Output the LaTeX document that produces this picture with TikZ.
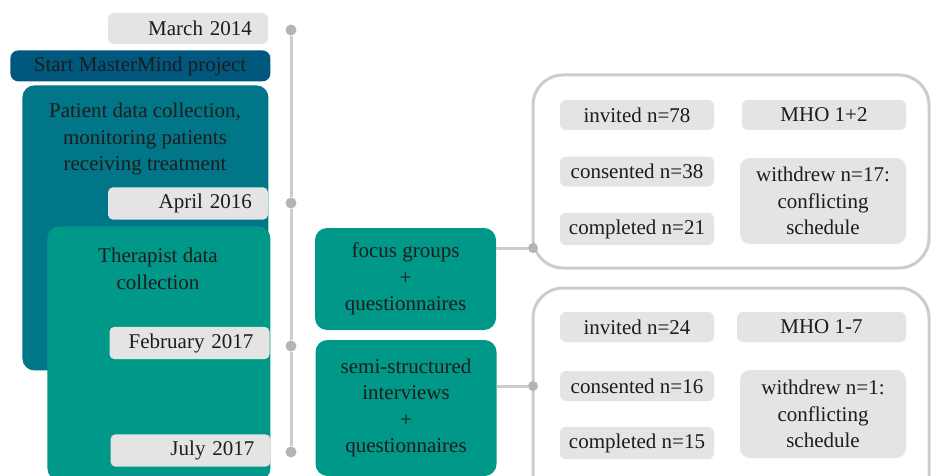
\documentclass[tikz,border=0pt]{standalone}
\usepackage{fontspec}
\setmainfont{Liberation Serif}
\usepackage{tikz}
\usetikzlibrary{positioning}
\definecolor{mmink}{RGB}{28,28,28}
\definecolor{mmnavy}{RGB}{0,88,126}
\definecolor{mmpetrol}{RGB}{0,118,136}
\definecolor{mmteal}{RGB}{0,152,136}
\definecolor{mmlabel}{RGB}{229,228,229}
\definecolor{mmline}{RGB}{204,204,204}
\definecolor{mmdot}{RGB}{180,180,180}

\begin{document}
\begin{tikzpicture}[x=0.5pt,y=-0.5pt,
  every node/.style={font=\fontsize{10.5}{13.3}\selectfont,text=mmink},
  date/.style={rectangle,rounded corners=2.5pt,fill=mmlabel,minimum width=80pt,minimum height=15.5pt,
    inner xsep=2pt,text width=64pt,align=right},
  phase/.style={rectangle,rounded corners=6pt,inner sep=0pt},
  method/.style={rectangle,rounded corners=6pt,fill=mmteal,minimum width=90.5pt,align=center},
  count/.style={rectangle,rounded corners=3pt,fill=mmlabel,minimum width=77pt,minimum height=15pt},
  panel/.style={draw=mmline,line width=1.5pt,rounded corners=15pt,fill=white},
  link/.style={draw=mmline,line width=1.5pt},
  dot/.style={circle,fill=mmdot,inner sep=0pt,minimum size=5.5pt}]
\useasboundingbox (0,0) rectangle (931,476);
\clip (0,0) rectangle (931,476);
% study phases (left)
\node[phase,fill=mmpetrol,anchor=north west,minimum width=123pt,minimum height=142.5pt] (patient) at (22,85) {};
\node[align=center] (patienttxt) at (145,139) {Patient data collection,\\monitoring patients\\receiving treatment};
\node[phase,fill=mmteal,anchor=north west,minimum width=111.5pt,minimum height=127pt] (therapist) at (47,226) {};
\node[align=center] (therapisttxt) at (158,269) {Therapist data\\collection};
\node[phase,fill=mmnavy,anchor=north west,minimum width=130pt,minimum height=15.5pt,rounded corners=4pt] (start) at (10,50) {};
\node (starttxt) at (140,66) {Start MasterMind project};
% dates on the timeline
\node[date] (mar14) at (188,28.5) {March 2014};
\node[date] (apr16) at (188,203.5) {April 2016};
\node[date] (feb17) at (189.5,343) {February 2017};
\node[date] (jul17) at (190.5,450.5) {July 2017};
\node[dot] (t1) at (291,30) {};
\node[dot] (t2) at (291,203) {};
\node[dot] (t3) at (291,346) {};
\node[dot] (t4) at (291,452) {};
\draw[link] (t1) -- (t2) -- (t3) -- (t4);
% participant panels (right)
\draw[panel] (533,75) rectangle (929,268);
\draw[panel] (533,288) rectangle (929,520);
\node[count] (inv1) at (637,115) {invited n=78};
\node[count,minimum width=82pt] (mho1) at (824,115) {MHO 1+2};
\node[count] (con1) at (637,171.5) {consented n=38};
\node[count] (com1) at (637,229) {completed n=21};
\node[count,minimum width=83pt,minimum height=43pt,rounded corners=5pt,align=center] (wd1) at (823,201) {withdrew n=17:\\conflicting\\schedule};
\node[count] (inv2) at (637,327) {invited n=24};
\node[count,minimum width=84.5pt] (mho2) at (821.5,327) {MHO 1-7};
\node[count] (con2) at (637,386) {consented n=16};
\node[count] (com2) at (637,443) {completed n=15};
\node[count,minimum width=83pt,minimum height=44pt,rounded corners=5pt,align=center] (wd2) at (823,414) {withdrew n=1:\\conflicting\\schedule};
% data collection methods
\node[method,minimum height=51pt] (focus) at (405.5,279) {focus groups\\+\\questionnaires};
\node[method,minimum height=68pt] (semi) at (406,408) {semi-structured\\interviews\\+\\questionnaires};
\node[dot,minimum size=5pt] (fgjoin) at (533,248) {};
\node[dot,minimum size=5pt] (sijoin) at (533,386) {};
\draw[link] (focus.east |- fgjoin) -- (fgjoin);
\draw[link] (semi.east |- sijoin) -- (sijoin);
\end{tikzpicture}
\end{document}
